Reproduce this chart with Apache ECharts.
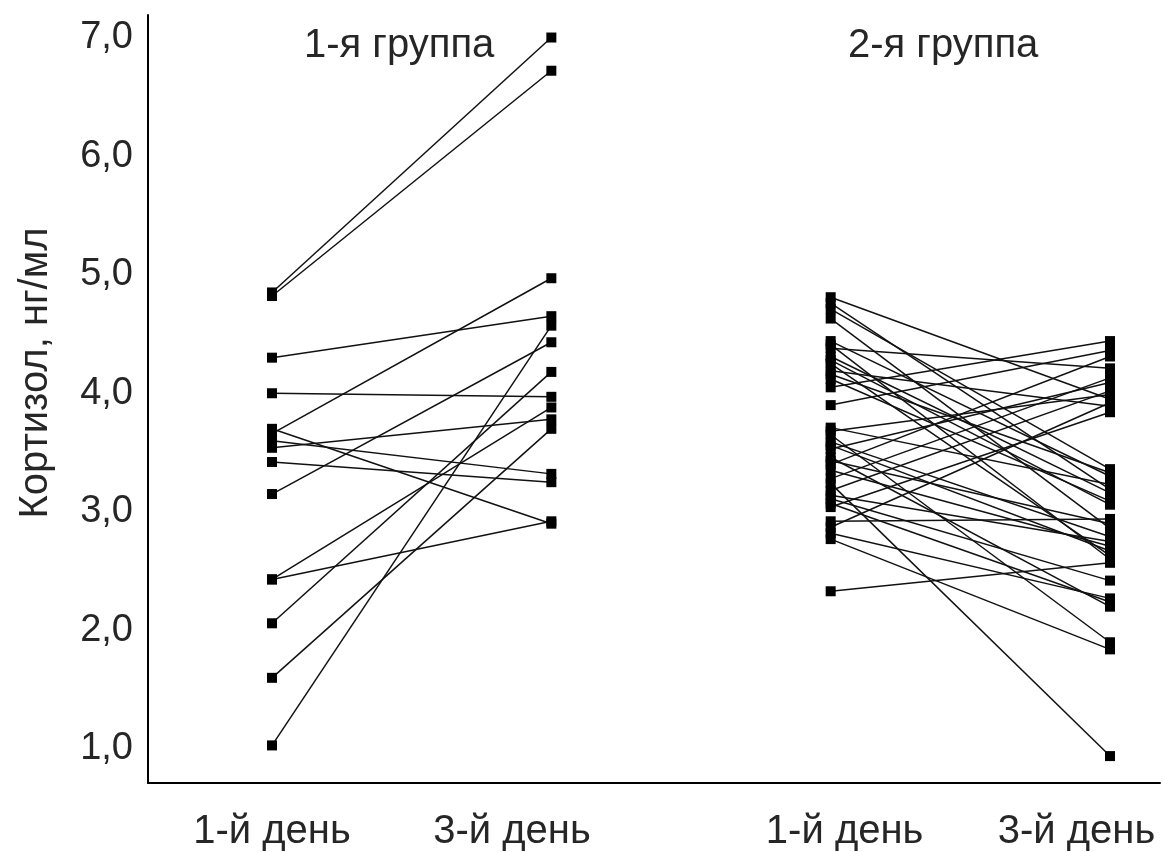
<!DOCTYPE html>
<html>
<head>
<meta charset="utf-8">
<script src="https://cdn.jsdelivr.net/npm/echarts@6/dist/echarts.min.js"></script>
<style>
html,body{margin:0;padding:0;background:#fff;}
#main{width:1162px;height:852px;}
</style>
</head>
<body>
<div id="main"></div>
<script>
// Day positions on the x axis
const dayPositions = [1, 2, 3, 4];
const dayLabels = ['1-й день', '3-й день', '1-й день', '3-й день'];
const groupTitles = ['1-я группа', '2-я группа'];
const yAxisName = 'Кортизол, нг/мл';
const yTicks = [1, 2, 3, 4, 5, 6, 7];

// Group 1: paired values (day 1 -> day 3), ng/ml
const group1Day1 = [4.85, 4.82, 4.30, 4.00, 3.66, 3.15, 3.54, 3.42, 3.60, 3.70, 2.43, 2.43, 2.06, 1.60, 1.03];
const group1Day3 = [7.00, 6.72, 4.65, 3.97, 4.97, 4.43, 3.78, 3.25, 3.32, 2.90, 2.92, 3.88, 4.18, 3.70, 4.57];

// Group 2: paired values (day 1 -> day 3), ng/ml
const group2Day1 = [4.81, 4.71, 4.63, 4.44, 4.38, 4.31, 4.25, 4.19, 4.12, 4.05, 3.90, 3.71, 3.65, 3.59, 3.53, 3.46, 3.40, 3.35, 3.24, 3.18, 3.11, 3.04, 2.92, 2.82, 2.77, 2.33, 4.76, 4.41, 4.16, 3.68, 3.43, 3.28, 3.14, 3.07, 2.87, 3.56, 4.28];
const group2Day3 = [3.95, 3.36, 2.86, 3.30, 4.21, 3.16, 2.63, 3.89, 3.09, 4.44, 4.36, 3.23, 1.90, 2.79, 4.09, 2.20, 4.31, 2.71, 0.94, 4.02, 2.42, 3.84, 2.94, 2.27, 1.84, 2.57, 3.19, 2.60, 3.33, 3.99, 2.90, 4.13, 2.75, 2.24, 3.92, 2.67, 3.06];

const FONT = 'Liberation Sans, Arial, sans-serif';
const TEXT_COLOR = '#262626';
const series = [];
function addPairs(d1, d3, x1, x3) {
  for (let i = 0; i < d1.length; i++) {
    series.push({
      type: 'line',
      data: [[x1, d1[i]], [x3, d3[i]]],
      symbol: 'rect',
      symbolSize: 10,
      showSymbol: true,
      lineStyle: { color: '#111', width: 1.5 },
      itemStyle: { color: '#000' },
      silent: true
    });
  }
}
addPairs(group1Day1, group1Day3, dayPositions[0], dayPositions[1]);
addPairs(group2Day1, group2Day3, dayPositions[2], dayPositions[3]);

const labelPositions = [1, 1.859, 3.05, 3.88];

const chart = echarts.init(document.getElementById('main'), null, { renderer: 'canvas' });
chart.setOption({
  animation: false,
  backgroundColor: '#fff',
  title: [
    { text: groupTitles[0], left: 299, top: 21, textStyle: { fontFamily: FONT, fontSize: 40, fontWeight: 'normal', color: TEXT_COLOR } },
    { text: groupTitles[1], left: 843, top: 21, textStyle: { fontFamily: FONT, fontSize: 40, fontWeight: 'normal', color: TEXT_COLOR } }
  ],
  graphic: [{
    type: 'text',
    x: 36,
    y: 373,
    rotation: Math.PI / 2,
    style: {
      text: yAxisName,
      fontFamily: FONT, fontSize: 40, fill: TEXT_COLOR,
      textAlign: 'center', textVerticalAlign: 'middle'
    }
  }],
  grid: { left: 148, right: 2, top: 15, bottom: 69, containLabel: false, outerBoundsMode: 'none' },
  xAxis: {
    type: 'value',
    min: 0.556,
    max: 4.179,
    splitLine: { show: false },
    axisTick: { show: false },
    axisLine: { lineStyle: { color: '#000', width: 2 } },
    axisLabel: {
      customValues: labelPositions,
      formatter: function (v) {
        const idx = labelPositions.findIndex(c => Math.abs(c - v) < 1e-6);
        return idx >= 0 ? dayLabels[idx] : '';
      },
      fontFamily: FONT, fontSize: 40, color: TEXT_COLOR, margin: 29
    }
  },
  yAxis: {
    type: 'value',
    min: 0.713,
    max: 7.19,
    splitLine: { show: false },
    axisTick: { show: false },
    axisLine: { show: true, lineStyle: { color: '#000', width: 2 } },
    axisLabel: {
      customValues: yTicks,
      formatter: v => v.toFixed(1).replace('.', ','),
      fontFamily: FONT, fontSize: 38, color: TEXT_COLOR, margin: 15
    }
  },
  series: series
});
</script>
</body>
</html>
